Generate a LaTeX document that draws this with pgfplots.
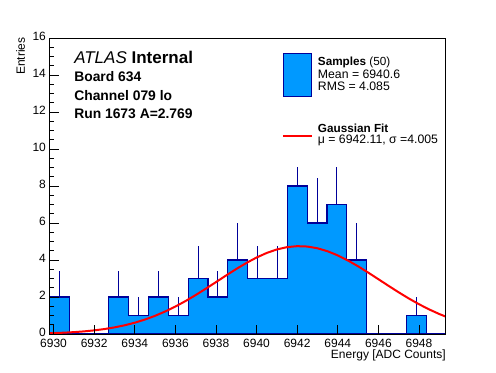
\documentclass[border=0pt]{standalone}
\usepackage{fontspec}
\setmainfont{Liberation Sans}
\usepackage{pgfplots}
\pgfplotsset{compat=1.18}
\definecolor{rootblue}{RGB}{0,153,255}
\definecolor{rootnavy}{RGB}{0,0,153}

\begin{document}
\begin{tikzpicture}
\path[use as bounding box] (-36.975pt,-28.5pt) rectangle (335.025pt,250.5pt);
\begin{axis}[
  at={(0pt,0pt)}, anchor=south west,
  scale only axis, width=297.5pt, height=222pt,
  xmin=6929.79, xmax=6949.33, ymin=0, ymax=16,
  axis on top,
  axis line style={line width=0.75pt},
  xtick={6930,6932,...,6948}, ytick={0,2,...,16},
  minor x tick num=3, minor y tick num=3,
  tick align=inside, xtick pos=bottom, ytick pos=left,
  major tick length=7pt, minor tick length=3.3pt,
  tick style={black, line width=0.6pt},
  scaled x ticks=false,
  /pgf/number format/assume math mode=true,
  xticklabel style={/pgf/number format/1000 sep={}, font=\fontsize{9}{10}\selectfont, yshift=-0.4pt},
  yticklabel style={font=\fontsize{9}{10}\selectfont, xshift=1pt, yshift=1pt},
  xlabel={Energy [ADC Counts]},
  xlabel style={at={(axis description cs:1,0)}, anchor=base east, yshift=-18.5pt, inner sep=0pt, font=\fontsize{9}{10}\selectfont},
  ylabel={Entries},
  ylabel style={at={(axis description cs:-0.0613,1.003)}, anchor=base east, inner sep=0pt, font=\fontsize{9}{10}\selectfont},
]
% error bars (upper halves visible)
\addplot[draw=none, mark=none, forget plot,
  error bars/.cd, y dir=plus, y explicit, error mark=none,
  error bar style={draw=rootnavy, line width=0.8pt}]
coordinates {
(6930.2785,2) +- (0,1.414)
(6933.2095,2) +- (0,1.414)
(6934.1865,1) +- (0,1)
(6935.1635,2) +- (0,1.414)
(6936.1405,1) +- (0,1)
(6937.1175,3) +- (0,1.732)
(6938.0945,2) +- (0,1.414)
(6939.0715,4) +- (0,2)
(6940.0485,3) +- (0,1.732)
(6941.0255,3) +- (0,1.732)
(6942.0025,8) +- (0,2.828)
(6942.9795,6) +- (0,2.449)
(6943.9565,7) +- (0,2.646)
(6944.9335,4) +- (0,2)
(6947.8645,1) +- (0,1)
};
% histogram
\addplot[const plot, fill=rootblue, draw=rootnavy, line width=0.9pt] coordinates {
(6929.79,2) (6930.767,0) (6931.744,0) (6932.721,2) (6933.698,1)
(6934.675,2) (6935.652,1) (6936.629,3) (6937.606,2) (6938.583,4)
(6939.56,3) (6940.537,3) (6941.514,8) (6942.491,6) (6943.468,7)
(6944.445,4) (6945.422,0) (6946.399,0) (6947.376,1) (6948.353,0)
(6949.33,0)
} \closedcycle;
% Gaussian fit
\addplot[red, line width=1.5pt, mark=none] coordinates {
(6929.79,0.042) (6930,0.049) (6930.5,0.071) (6931,0.101) (6931.5,0.142)
(6932,0.196) (6932.5,0.267) (6933,0.357) (6933.5,0.471) (6934,0.611)
(6934.5,0.781) (6935,0.982) (6935.5,1.217) (6936,1.483) (6936.5,1.781)
(6937,2.105) (6937.5,2.449) (6938,2.805) (6938.5,3.164) (6939,3.514)
(6939.5,3.841) (6940,4.134) (6940.5,4.381) (6941,4.571) (6941.5,4.695)
(6942,4.748) (6942.5,4.728) (6943,4.634) (6943.5,4.472) (6944,4.249)
(6944.5,3.975) (6945,3.661) (6945.5,3.320) (6946,2.963) (6946.5,2.605)
(6947,2.254) (6947.5,1.920) (6948,1.611) (6948.5,1.330) (6949,1.081)
(6949.33,0.935)
};
% legend pad
\fill[white] (axis cs:6940.9,9.03) rectangle (axis cs:6949.33,16);
\filldraw[fill=rootblue, draw=rootnavy, line width=0.75pt] (axis description cs:0.590,0.8017) rectangle (axis description cs:0.661,0.9483);
\draw[red, line width=1.5pt] (axis description cs:0.589,0.6689) -- (axis description cs:0.662,0.6689);
\node[anchor=base west, inner sep=0pt, font=\fontsize{8.8}{10}\selectfont] at (axis description cs:0.6766,0.9064) {\textbf{Samples} (50)};
\node[anchor=base west, inner sep=0pt, font=\fontsize{9.2}{10}\selectfont] at (axis description cs:0.6766,0.8615) {Mean = 6940.6};
\node[anchor=base west, inner sep=0pt, font=\fontsize{9.2}{10}\selectfont] at (axis description cs:0.6766,0.8243) {RMS = 4.085};
\node[anchor=base west, inner sep=0pt, font=\fontsize{8.8}{10}\selectfont] at (axis description cs:0.6766,0.6824) {\textbf{Gaussian Fit}};
\node[anchor=base west, inner sep=0pt, font=\fontsize{9.2}{10}\selectfont] at (axis description cs:0.6766,0.6430) {μ = 6942.11, σ =4.005};
% ATLAS label
\node[anchor=base west, inner sep=0pt, font=\fontsize{12.75}{15}\selectfont] at (axis description cs:0.0623,0.9155) {\textit{ATLAS} \textbf{Internal}};
\node[anchor=base west, inner sep=0pt, font=\fontsize{10.4}{12}\selectfont\bfseries] at (axis description cs:0.0623,0.8547) {Board 634};
\node[anchor=base west, inner sep=0pt, font=\fontsize{10.4}{12}\selectfont\bfseries] at (axis description cs:0.0623,0.7905) {Channel 079 lo};
\node[anchor=base west, inner sep=0pt, font=\fontsize{10.4}{12}\selectfont\bfseries] at (axis description cs:0.0623,0.7274) {Run 1673 A=2.769};
\end{axis}
\end{tikzpicture}
\end{document}
